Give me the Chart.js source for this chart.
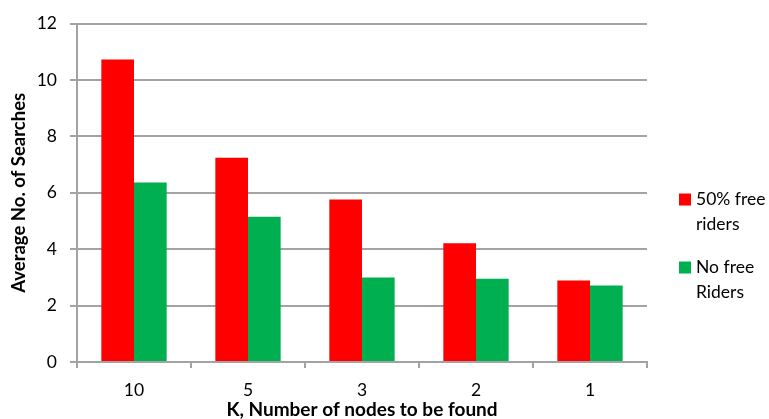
<!DOCTYPE html>
<html>
<head>
<meta charset="utf-8">
<script src="https://cdn.jsdelivr.net/npm/chart.js@4/dist/chart.umd.min.js"></script>
<style>
  html, body { margin: 0; padding: 0; background: #ffffff; }
  #wrap { width: 769px; height: 419px; }
</style>
</head>
<body>
<div id="wrap"><canvas id="chart" width="769" height="419"></canvas></div>
<script>
// K values on the category axis
const kValues = ['10', '5', '3', '2', '1'];
// Average number of searches per K
const halfFreeRiders = [10.72, 7.24, 5.76, 4.21, 2.89];
const noFreeRiders = [6.36, 5.15, 3.00, 2.95, 2.71];
// Value axis ticks
const yTicks = [0, 2, 4, 6, 8, 10, 12];
// Series names and colours
const seriesNames = ['50% free riders', 'No free Riders'];
const seriesColors = ['#FF0000', '#00B050'];

const FONT = 'Lato, "Open Sans", "DejaVu Sans", sans-serif';
const GRID = '#a3a3a3';

// Legend on the right with word-wrapped entries
const wrappedLegend = {
  id: 'wrappedLegend',
  afterDraw(chart) {
    const { ctx, chartArea } = chart;
    const boxX = chartArea.right + 32;
    const textX = boxX + 17;
    const maxW = chart.width - textX - 2;
    const lineH = 24.5;
    const itemGap = 19;
    const box = 12;
    let y = chartArea.top + (chartArea.bottom - chartArea.top) * 0.52;
    ctx.save();
    ctx.font = '17.5px ' + FONT;
    ctx.textBaseline = 'middle';
    ctx.textAlign = 'left';
    chart.data.datasets.forEach((ds) => {
      const words = ds.label.split(' ');
      const lines = [];
      let cur = '';
      words.forEach((w) => {
        const t = cur ? cur + ' ' + w : w;
        if (cur && ctx.measureText(t).width > maxW) { lines.push(cur); cur = w; }
        else cur = t;
      });
      if (cur) lines.push(cur);
      ctx.fillStyle = ds.backgroundColor;
      ctx.fillRect(boxX, y - box / 2, box, box);
      ctx.fillStyle = '#000000';
      lines.forEach((ln, i) => ctx.fillText(ln, textX, y + i * lineH));
      y += lines.length * lineH + itemGap;
    });
    ctx.restore();
  }
};

new Chart(document.getElementById('chart'), {
  type: 'bar',
  data: {
    labels: kValues,
    datasets: [
      { label: seriesNames[0], data: halfFreeRiders, backgroundColor: seriesColors[0] },
      { label: seriesNames[1], data: noFreeRiders, backgroundColor: seriesColors[1] }
    ]
  },
  options: {
    responsive: false,
    animation: false,
    devicePixelRatio: 1,
    layout: { padding: { top: 22, right: 122, left: 0, bottom: 0 } },
    datasets: { bar: { categoryPercentage: 0.573, barPercentage: 1.0, borderWidth: 0 } },
    plugins: {
      legend: { display: false },
      tooltip: { enabled: false }
    },
    scales: {
      x: {
        offset: true,
        grid: { offset: true, drawOnChartArea: false, drawTicks: true, tickLength: 6, color: GRID, lineWidth: 2 },
        border: { display: true, color: GRID, width: 2 },
        ticks: { color: '#000000', font: { family: FONT, size: 17.5 }, padding: 12, maxRotation: 0 },
        title: {
          display: true,
          text: 'K, Number of nodes to be found',
          color: '#000000',
          font: { family: FONT, size: 19, weight: 'bold', lineHeight: 1 },
          padding: { top: 0, bottom: 0 }
        },
        afterFit(scale) { scale.height = 57; }
      },
      y: {
        min: 0,
        max: 12,
        afterBuildTicks(scale) { scale.ticks = yTicks.map((v) => ({ value: v })); },
        grid: { color: GRID, lineWidth: 2, drawTicks: true, tickLength: 7 },
        border: { display: true, color: GRID, width: 2 },
        ticks: { color: '#000000', font: { family: FONT, size: 17.5 }, padding: 13 },
        title: {
          display: true,
          text: 'Average No. of Searches',
          color: '#000000',
          font: { family: FONT, size: 18.5, weight: 'bold', lineHeight: 1 },
          padding: { top: 10, bottom: 0 }
        },
        afterFit(scale) { scale.width = 77; }
      }
    }
  },
  plugins: [wrappedLegend]
});
</script>
</body>
</html>
